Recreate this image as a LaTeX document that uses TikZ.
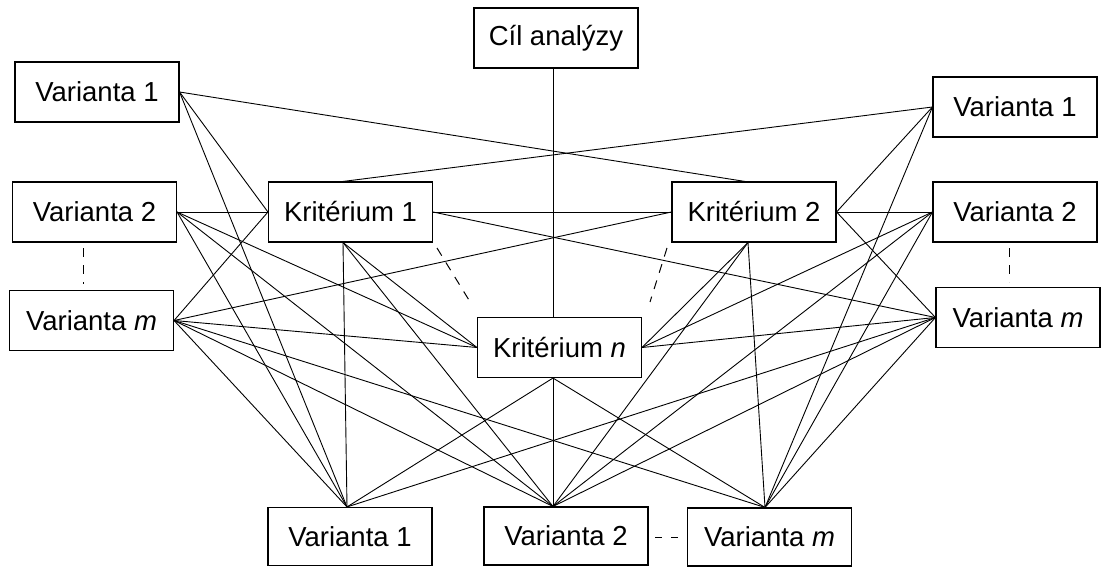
\documentclass[tikz,border=0pt]{standalone}
\usepackage{fontspec}
\setmainfont{Liberation Sans}
\pgfdeclarelayer{background}
\pgfsetlayers{background,main}
\begin{document}
\begin{tikzpicture}[x=1pt,y=-1pt,
  box/.style={draw, line width=1.1pt, fill=white, minimum width=164pt,
    minimum height=60pt, inner sep=0pt, font=\fontsize{27.5}{31}\selectfont},
  link/.style={line width=0.9pt},
  gap/.style={line width=1pt, dash pattern=on 9pt off 8pt}]
\useasboundingbox (0,0) rectangle (1101,567);

% goal, criteria and variants
\node[box] (C)  at (556,38)    {Cíl analýzy};
\node[box] (L1) at (97,92)     {Varianta 1};
\node[box] (L2) at (94.5,212)  {Varianta 2};
\node[box] (Lm) at (91.5,320.5){Varianta \textit{m}};
\node[box] (K1) at (350.5,212) {Kritérium 1};
\node[box] (K2) at (754,212)   {Kritérium 2};
\node[box] (Kn) at (559.5,347.5){Kritérium \textit{n}};
\node[box] (R1) at (1015,107)  {Varianta 1};
\node[box] (R2) at (1015,212)  {Varianta 2};
\node[box] (Rm) at (1018,317.5){Varianta \textit{m}};
\node[box, minimum height=58pt] (B1) at (350,536.5) {Varianta 1};
\node[box, minimum height=58pt] (B2) at (566,536)   {Varianta 2};
\node[box, minimum height=58pt] (Bm) at (769.5,537) {Varianta \textit{m}};

% attachment points off the box centres
\coordinate (Cs)  at ([xshift=-3pt]C.south);
\coordinate (Knn) at ([xshift=-6.5pt]Kn.north);
\coordinate (Kns) at ([xshift=-6.5pt]Kn.south);
\coordinate (K1n) at ([xshift=-7.5pt]K1.north);
\coordinate (K1s) at ([xshift=-7.5pt]K1.south);
\coordinate (K2n) at ([xshift=-9pt]K2.north);
\coordinate (K2s) at ([xshift=-6pt]K2.south);
\coordinate (B1n) at ([xshift=-3pt]B1.north);
\coordinate (B2n) at ([xshift=-13pt]B2.north);
\coordinate (Bmn) at ([xshift=-4.5pt]Bm.north);

\begin{pgfonlayer}{background}
\begin{scope}[link]
  % goal
  \draw (Cs) -- (Knn);
  \draw (L1.east) -- (K2n);
  \draw (R1.west) -- (K1n);
  % criterion 1
  \draw (L1.east) -- (K1.west);
  \draw (L2.east) -- (K1.west);
  \draw (Lm.east) -- (K1.west);
  \draw (K1.east) -- (K2.west);
  \draw (K1.east) -- (Rm.west);
  \draw (K1s) -- (B1n);
  \draw (K1s) -- (B2n);
  \draw (K1s) -- (Kn.west);
  % criterion 2
  \draw (K2.west) -- (Lm.east);
  \draw (R1.west) -- (K2.east);
  \draw (R2.west) -- (K2.east);
  \draw (Rm.west) -- (K2.east);
  \draw (K2s) -- (Bmn);
  \draw (K2s) -- (B2n);
  \draw (K2s) -- (Kn.east);
  % criterion n
  \draw (L2.east) -- (Kn.west);
  \draw (Lm.east) -- (Kn.west);
  \draw (R2.west) -- (Kn.east);
  \draw (Rm.west) -- (Kn.east);
  \draw (Kns) -- (B1n);
  \draw (Kns) -- (B2n);
  \draw (Kns) -- (Bmn);
  % side variants to bottom variants
  \draw (L1.east) -- (B1n);
  \draw (L2.east) -- (B1n);
  \draw (Lm.east) -- (B1n);
  \draw (L2.east) -- (B2n);
  \draw (Lm.east) -- (B2n);
  \draw (Lm.east) -- (Bmn);
  \draw (R1.west) -- (Bmn);
  \draw (R2.west) -- (Bmn);
  \draw (Rm.west) -- (Bmn);
  \draw (R2.west) -- (B2n);
  \draw (Rm.west) -- (B2n);
  \draw (Rm.west) -- (B1n);
\end{scope}
\end{pgfonlayer}

% omitted members of each group
\draw[gap] (83,248) -- (83,284);
\draw[gap] (1009,248) -- (1009,282);
\draw[gap] (437,248) -- (472,305);
\draw[gap] (667,248) -- (650,302);
\draw[line width=1pt, dash pattern=on 7pt off 9pt] (655,537) -- (680,537);
\end{tikzpicture}
\end{document}
